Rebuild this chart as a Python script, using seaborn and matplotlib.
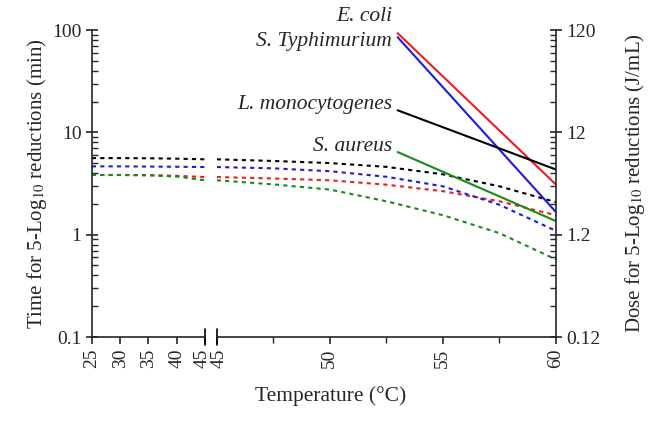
import numpy as np
import pandas as pd
import matplotlib
matplotlib.use("Agg")
import matplotlib.pyplot as plt
import matplotlib.ticker as mticker
import matplotlib.transforms as mtransforms
import seaborn as sns

# Datos
especies = ["E. coli", "S. Typhimurium", "L. monocytogenes", "S. aureus"]
colores = ["#ec1c24", "#1c1ce0", "#000000", "#178a17"]

# tiempo (min) para 5-log, curvas punteadas
temp_bajo = [25, 30, 35, 40, 45]
tiempo_bajo = {
    "E. coli": [3.83, 3.83, 3.82, 3.76, 3.66],
    "S. Typhimurium": [4.65, 4.65, 4.63, 4.61, 4.58],
    "L. monocytogenes": [5.6, 5.6, 5.58, 5.53, 5.45],
    "S. aureus": [3.83, 3.83, 3.80, 3.70, 3.40],
}
temp_alto = [45, 47.5, 50, 52.5, 55, 57.5, 60]
tiempo_alto = {
    "E. coli": [3.66, 3.54, 3.40, 3.08, 2.66, 2.12, 1.55],
    "S. Typhimurium": [4.58, 4.45, 4.17, 3.68, 2.97, 1.96, 1.09],
    "L. monocytogenes": [5.45, 5.25, 5.01, 4.60, 3.89, 2.97, 2.08],
    "S. aureus": [3.40, 3.10, 2.76, 2.12, 1.55, 1.035, 0.573],
}
# dosis (J/mL) para 5-log, líneas sólidas
temp_dosis = [53, 60]
dosis = {
    "E. coli": [111.7, 3.71],
    "S. Typhimurium": [102.0, 2.0],
    "L. monocytogenes": [19.7, 5.2],
    "S. aureus": [7.7, 1.63],
}
desplaz_etiqueta = {"E. coli": 12, "S. Typhimurium": -3, "L. monocytogenes": 4, "S. aureus": 4}

df_bajo = pd.DataFrame([{"T": t, "v": v, "sp": s} for s in especies
                        for t, v in zip(temp_bajo, tiempo_bajo[s])])
df_alto = pd.DataFrame([{"T": t, "v": v, "sp": s} for s in especies
                        for t, v in zip(temp_alto, tiempo_alto[s])])
df_dosis = pd.DataFrame([{"T": t, "v": v, "sp": s} for s in especies
                         for t, v in zip(temp_dosis, dosis[s])])
paleta = dict(zip(especies, colores))

sns.set_style("ticks")
plt.rcParams["font.family"] = ["Liberation Serif", "DejaVu Serif"]
plt.rcParams["mathtext.fontset"] = "stix"
plt.rcParams["font.size"] = 14

fig = plt.figure(figsize=(6.61, 4.22), dpi=100)
ax1 = fig.add_axes([0.139, 0.2014, 0.171, 0.7275])
ax2 = fig.add_axes([0.328, 0.2014, 0.513, 0.7275])
ax3 = ax2.twinx()

puntos = (0, (2, 2))
sns.lineplot(data=df_bajo, x="T", y="v", hue="sp", palette=paleta, ax=ax1,
             legend=False, linewidth=1.5, linestyle=puntos)
sns.lineplot(data=df_alto, x="T", y="v", hue="sp", palette=paleta, ax=ax2,
             legend=False, linewidth=1.5, linestyle=puntos)
sns.lineplot(data=df_dosis, x="T", y="v", hue="sp", palette=paleta, ax=ax3,
             legend=False, linewidth=1.5)

for ax in (ax1, ax2):
    ax.set_yscale("log")
    ax.set_ylim(0.1, 100)
ax3.set_yscale("log")
ax3.set_ylim(0.12, 120)
ax1.set_xlim(25, 45)
ax2.set_xlim(45, 60)
ax3.set_xlim(45, 60)

# eje izquierdo
ax1.yaxis.set_major_locator(mticker.FixedLocator([0.1, 1, 10, 100]))
ax1.yaxis.set_major_formatter(mticker.FixedFormatter(["0.1", "1", "10", "100"]))
ax1.yaxis.set_minor_locator(mticker.LogLocator(base=10, subs=np.arange(2, 10)))
ax1.yaxis.set_minor_formatter(mticker.NullFormatter())
ax1.set_xticks([25, 30, 35, 40, 45])
ax1.set_xticklabels(["25", "30", "35", "40", "45"], rotation=90)
ax1.tick_params(axis="y", which="major", direction="inout", length=8, width=1.2)
ax1.tick_params(axis="y", which="minor", direction="in", length=4, width=1)
ax1.tick_params(axis="x", which="major", direction="out", length=5, width=1.2)
ax1.spines["top"].set_visible(False)
ax1.spines["right"].set_visible(False)
ax1.set_xlabel("")
ax1.set_ylabel("Time for 5-Log$_{10}$ reductions (min)", labelpad=2, fontsize=15)

# panel derecho
ax2.set_yticks([])
ax2.yaxis.set_minor_locator(mticker.NullLocator())
ax2.set_xticks([45, 50, 55, 60])
ax2.set_xticklabels(["45", "50", "55", "60"], rotation=90)
ax2.xaxis.set_minor_locator(mticker.FixedLocator([47.5, 52.5, 57.5]))
ax2.tick_params(axis="x", which="major", direction="out", length=5, width=1.2)
ax2.tick_params(axis="x", which="minor", direction="out", length=4, width=1)
for s in ("top", "left", "right"):
    ax2.spines[s].set_visible(False)
ax2.set_xlabel("")
ax2.set_ylabel("")

# separar un poco las dos etiquetas "45"
ax1.get_xticklabels()[-1].set_transform(
    ax1.get_xticklabels()[-1].get_transform()
    + mtransforms.ScaledTranslation(-2 / 72, 0, fig.dpi_scale_trans))
ax2.get_xticklabels()[0].set_transform(
    ax2.get_xticklabels()[0].get_transform()
    + mtransforms.ScaledTranslation(2 / 72, 0, fig.dpi_scale_trans))

# eje derecho (dosis)
ax3.yaxis.set_major_locator(mticker.FixedLocator([0.12, 1.2, 12, 120]))
ax3.yaxis.set_major_formatter(mticker.FixedFormatter(["0.12", "1.2", "12", "120"]))
menores = [0.12 * k * 10 ** n for n in range(3) for k in range(2, 10)]
ax3.yaxis.set_minor_locator(mticker.FixedLocator(menores))
ax3.yaxis.set_minor_formatter(mticker.NullFormatter())
ax3.tick_params(axis="y", which="major", direction="inout", length=8, width=1.2)
ax3.tick_params(axis="y", which="minor", direction="in", length=4, width=1)
for s in ("top", "left", "bottom"):
    ax3.spines[s].set_visible(False)
ax3.set_xlabel("")
ax3.set_ylabel("Dose for 5-Log$_{10}$ reductions (J/mL)", labelpad=16, fontsize=15)

for ax in (ax1, ax2, ax3):
    for sp in ax.spines.values():
        sp.set_linewidth(1.2)

# marcas de corte del eje x
ax1.plot([1, 1], [-0.025, 0.025], transform=ax1.transAxes, color="black",
         lw=1.2, clip_on=False)
ax2.plot([0, 0], [-0.025, 0.025], transform=ax2.transAxes, color="black",
         lw=1.2, clip_on=False)

# etiquetas de especies
for s in especies:
    ax3.annotate(s, xy=(temp_dosis[0], dosis[s][0]), xytext=(-4, desplaz_etiqueta[s]),
                 textcoords="offset points", ha="right", va="center",
                 style="italic", fontsize=15.5)

fig.text(0.5, 0.062, "Temperature (°C)", ha="center", va="center", fontsize=15.5)

fig.savefig("out.png", dpi=100)
